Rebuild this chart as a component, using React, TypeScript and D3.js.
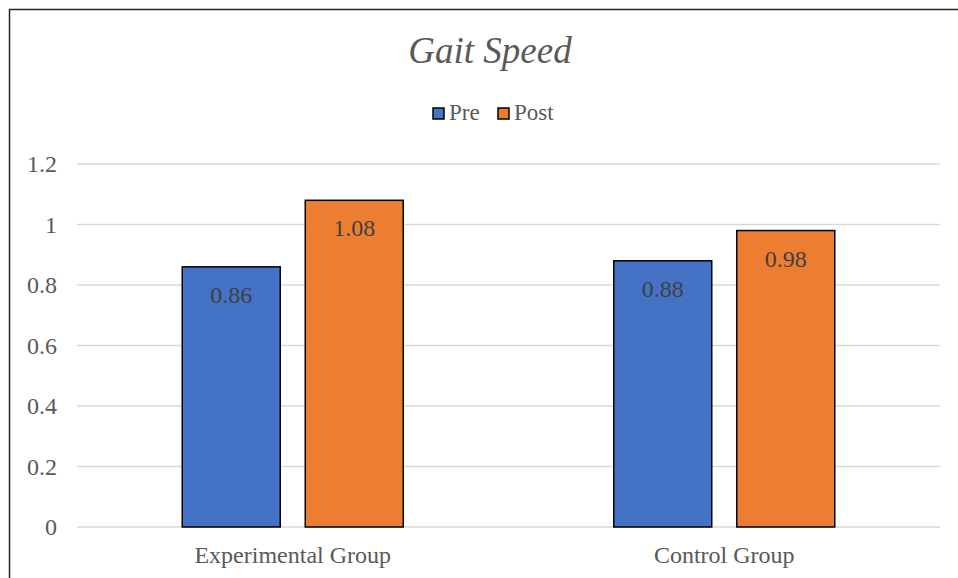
import React from "react";
import * as d3 from "d3";

const categories = ["Experimental Group", "Control Group"];
const seriesNames = ["Pre", "Post"];
const preValues = [0.86, 0.88];
const postValues = [1.08, 0.98];
const yTicks = [0, 0.2, 0.4, 0.6, 0.8, 1, 1.2];
const colors = ["#4472C4", "#ED7D31"];

export default function App() {
  const W = 958, H = 578;
  const left = 77, right = 940, top = 164, bottom = 527;
  const x = d3.scaleBand<string>().domain(categories).range([left, right]).paddingInner(0).paddingOuter(0);
  const y = d3.scaleLinear().domain([0, 1.2]).range([bottom, top]);
  const barW = 98, gap = 25;
  const series = [preValues, postValues];
  const font = "Liberation Serif";
  const ts = { fontFamily: font };
  return (
    <svg width={W} height={H} style={{ position: "absolute", left: 0, top: 0, fontFamily: font }}>
      <rect x={0} y={0} width={W} height={H} fill="#fff" />
      <path d={`M9.5,${H} V9.5 H${W}`} fill="none" stroke="#262626" strokeWidth={1.5} />
      <text x={490} y={63} style={ts} textAnchor="middle" fontSize={37} fontStyle="italic" fill="#595959">Gait Speed</text>
      {seriesNames.map((n, i) => {
        const lx = i === 0 ? 433 : 498;
        return (
          <g key={n}>
            <rect x={lx} y={108} width={11} height={11} fill={colors[i]} stroke="#000" strokeWidth={1.5} />
            <text x={lx + 16} y={120} style={ts} fontSize={23} fill="#595959">{n}</text>
          </g>
        );
      })}
      {yTicks.map((t) => (
        <g key={t}>
          <line x1={left} x2={right} y1={y(t)} y2={y(t)} stroke="#d9d9d9" strokeWidth={1.5} />
          <text x={57} y={y(t) + 8} style={ts} textAnchor="end" fontSize={24} fill="#595959">{t}</text>
        </g>
      ))}
      {categories.map((c, ci) => {
        const cx = (x(c) as number) + x.bandwidth() / 2;
        return (
          <g key={c}>
            {series.map((vals, si) => {
              const bx = si === 0 ? cx - gap / 2 - barW : cx + gap / 2;
              const by = y(vals[ci]);
              return (
                <g key={si}>
                  <rect x={bx} y={by} width={barW} height={bottom - by} fill={colors[si]} stroke="#000" strokeWidth={1.5} />
                  <text x={bx + barW / 2} y={by + 36} style={ts} textAnchor="middle" fontSize={24} fill="#404040">{vals[ci].toFixed(2)}</text>
                </g>
              );
            })}
            <text x={cx} y={563} style={ts} textAnchor="middle" fontSize={24} fill="#595959">{c}</text>
          </g>
        );
      })}
    </svg>
  );
}
